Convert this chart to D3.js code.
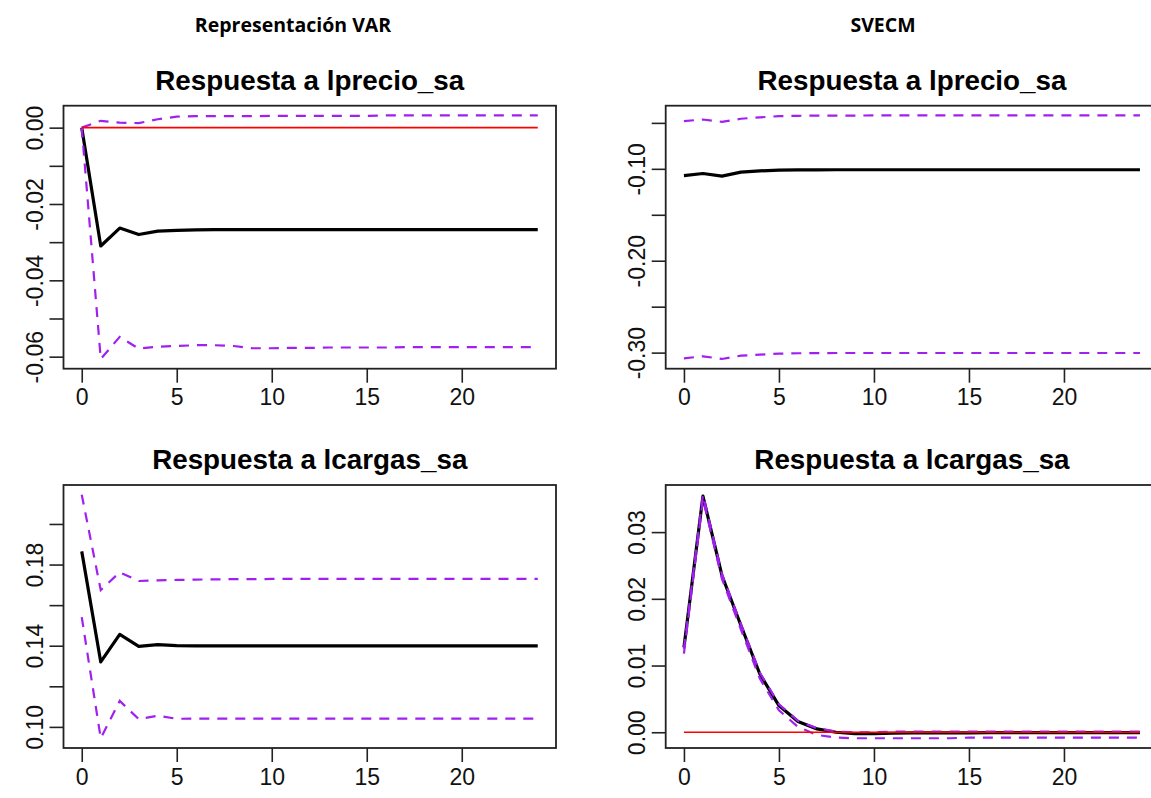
<!DOCTYPE html>
<html>
<head>
<meta charset="utf-8">
<script src="https://cdn.jsdelivr.net/npm/d3@7"></script>
<style>
  body { margin: 0; background: #fff; }
  svg { display: block; }
  .axis text { font-family: "Liberation Sans", Arial, sans-serif; font-size: 23px; fill: #111; }
  .axis line { stroke: #222; stroke-width: 1.6px; }
</style>
</head>
<body>
<div id="chart"></div>
<script>
// impulse horizon
var horizon = [0, 1, 2, 3, 4, 5, 6, 7, 8, 9, 10, 11, 12, 13, 14, 15, 16, 17, 18, 19, 20, 21, 22, 23, 24];
var xTicks = [0, 5, 10, 15, 20];

// VAR: respuesta a lprecio_sa
var varPrecioIrf = [0, -0.0310, -0.0263, -0.0280, -0.0271, -0.0269, -0.0268, -0.0267, -0.0267, -0.0267, -0.0267, -0.0267, -0.0267, -0.0267, -0.0267, -0.0267, -0.0267, -0.0267, -0.0267, -0.0267, -0.0267, -0.0267, -0.0267, -0.0267, -0.0267];
var varPrecioUpper = [0, 0.0018, 0.0013, 0.0012, 0.0022, 0.0029, 0.0030, 0.0030, 0.0030, 0.0030, 0.0031, 0.0031, 0.0031, 0.0031, 0.0031, 0.0031, 0.0032, 0.0032, 0.0032, 0.0032, 0.0032, 0.0032, 0.0032, 0.0032, 0.0032];
var varPrecioLower = [0, -0.0606, -0.0548, -0.0579, -0.0574, -0.0572, -0.0570, -0.0570, -0.0572, -0.0578, -0.0578, -0.0577, -0.0577, -0.0576, -0.0576, -0.0576, -0.0576, -0.0575, -0.0575, -0.0575, -0.0575, -0.0575, -0.0575, -0.0575, -0.0575];
var varPrecioTicks = [0, -0.01, -0.02, -0.03, -0.04, -0.05, -0.06];
var varPrecioLabels = [0, -0.02, -0.04, -0.06];

// VAR: respuesta a lcargas_sa
var varCargasIrf = [0.1865, 0.1320, 0.1456, 0.1397, 0.1405, 0.1400, 0.1399, 0.1399, 0.1399, 0.1399, 0.1399, 0.1399, 0.1399, 0.1399, 0.1399, 0.1399, 0.1399, 0.1399, 0.1399, 0.1399, 0.1399, 0.1399, 0.1399, 0.1399, 0.1399];
var varCargasUpper = [0.2144, 0.1674, 0.1762, 0.1719, 0.1722, 0.1724, 0.1726, 0.1727, 0.1728, 0.1728, 0.1729, 0.1729, 0.1729, 0.1729, 0.1729, 0.1729, 0.1729, 0.1729, 0.1729, 0.1729, 0.1729, 0.1729, 0.1729, 0.1729, 0.1729];
var varCargasLower = [0.1541, 0.0944, 0.1128, 0.1038, 0.1055, 0.1040, 0.1041, 0.1041, 0.1041, 0.1041, 0.1041, 0.1041, 0.1041, 0.1041, 0.1041, 0.1041, 0.1041, 0.1041, 0.1041, 0.1041, 0.1041, 0.1041, 0.1041, 0.1041, 0.1041];
var varCargasTicks = [0.10, 0.12, 0.14, 0.16, 0.18, 0.20];
var varCargasLabels = [0.10, 0.14, 0.18];

// SVECM: respuesta a lprecio_sa
var svecmPrecioIrf = [-0.1073, -0.1051, -0.1080, -0.1036, -0.1022, -0.1015, -0.1012, -0.1011, -0.1010, -0.1010, -0.1010, -0.1010, -0.1010, -0.1010, -0.1010, -0.1010, -0.1010, -0.1010, -0.1010, -0.1010, -0.1010, -0.1010, -0.1010, -0.1010, -0.1010];
var svecmPrecioUpper = [-0.0481, -0.0463, -0.0488, -0.0455, -0.0440, -0.0427, -0.0423, -0.0421, -0.0420, -0.0420, -0.0419, -0.0419, -0.0419, -0.0419, -0.0419, -0.0419, -0.0419, -0.0419, -0.0419, -0.0419, -0.0419, -0.0419, -0.0419, -0.0419, -0.0419];
var svecmPrecioLower = [-0.3062, -0.3040, -0.3069, -0.3033, -0.3022, -0.3011, -0.3007, -0.3005, -0.3004, -0.3004, -0.3004, -0.3004, -0.3004, -0.3004, -0.3004, -0.3004, -0.3004, -0.3004, -0.3004, -0.3004, -0.3004, -0.3004, -0.3004, -0.3004, -0.3004];
var svecmPrecioTicks = [-0.05, -0.10, -0.15, -0.20, -0.25, -0.30];
var svecmPrecioLabels = [-0.10, -0.20, -0.30];

// SVECM: respuesta a lcargas_sa
var svecmCargasIrf = [0.0127, 0.0354, 0.0235, 0.0160, 0.0087, 0.0040, 0.0016, 0.0005, 0.0000, -0.0002, -0.0002, -0.00015, -0.0001, -0.0001, -0.0001, -0.00008, -0.00007, -0.00006, -0.00005, -0.00005, -0.00005, -0.00005, -0.00005, -0.00005, -0.00005];
var svecmCargasUpper = [0.0125, 0.0356, 0.0237, 0.0162, 0.0089, 0.0042, 0.0017, 0.0006, 0.0001, 0.0000, 0.0000, 0.0001, 0.0001, 0.0001, 0.0001, 0.0001, 0.0001, 0.0001, 0.0001, 0.0001, 0.0001, 0.0001, 0.0001, 0.0001, 0.0001];
var svecmCargasLower = [0.0118, 0.0350, 0.0230, 0.0154, 0.0080, 0.0033, 0.0008, -0.0004, -0.0008, -0.0009, -0.0009, -0.0009, -0.0009, -0.0009, -0.0009, -0.0008, -0.0008, -0.0008, -0.0008, -0.0008, -0.0008, -0.0008, -0.0008, -0.0008, -0.0008];
var svecmCargasTicks = [0.00, 0.01, 0.02, 0.03];
var svecmCargasLabels = [0.00, 0.01, 0.02, 0.03];

var width = 1151, height = 798;

var svg = d3.select("#chart")
    .append("svg")
    .attr("width", width)
    .attr("height", height);

// column headings
svg.selectAll(".heading")
    .data([["Representación VAR", 293], ["SVECM", 883]])
    .enter().append("text")
    .attr("class", "heading")
    .attr("x", function(d){ return d[1] })
    .attr("y", 32)
    .attr("text-anchor", "middle")
    .style("font-family", "'Open Sans', sans-serif")
    .style("font-weight", "bold")
    .style("font-size", "19.5px")
    .text(function(d){ return d[0] });

function drawPanel(opts){
    var left = opts.left, right = opts.left + 492.5;
    var top = opts.top, bottom = opts.top + 263;

    var x = d3.scaleLinear().domain([-0.96, 24.96]).range([left, right]);

    // r-style range: data extent plus 4% each side
    var lo = d3.min(opts.lower.concat(opts.irf, opts.upper));
    var hi = d3.max(opts.lower.concat(opts.irf, opts.upper));
    var pad = (hi - lo) * 0.04;
    var y = d3.scaleLinear().domain([lo - pad, hi + pad]).range([bottom, top]);

    var g = svg.append("g");

    g.append("text")
        .attr("x", (left + right) / 2)
        .attr("y", top - 16)
        .attr("text-anchor", "middle")
        .style("font-family", "'Liberation Sans', Arial, sans-serif")
        .style("font-weight", "bold")
        .style("font-size", "27.8px")
        .text(opts.title);

    var xAxis = d3.axisBottom(x).tickValues(xTicks).tickSize(14).tickPadding(6)
        .tickFormat(d3.format("d"));
    var gx = g.append("g").attr("class", "axis")
        .attr("transform", "translate(0," + bottom + ")")
        .call(xAxis);
    gx.select(".domain").remove();
    gx.selectAll("text").attr("dy", "0.72em");

    var yAxis = d3.axisLeft(y).tickValues(opts.ticks).tickSize(14)
        .tickFormat(function(d){
            var show = opts.labels.some(function(l){ return Math.abs(l - d) < 1e-9 });
            return show ? d3.format(".2f")(d).replace("−", "-") : "";
        });
    var gy = g.append("g").attr("class", "axis")
        .attr("transform", "translate(" + left + ",0)")
        .call(yAxis);
    gy.select(".domain").remove();
    gy.selectAll("text")
        .attr("transform", "rotate(-90)")
        .attr("x", 0)
        .attr("y", -20.5)
        .attr("dy", 0)
        .attr("text-anchor", "middle");

    var line = function(vals){
        return d3.line()
            .x(function(d, i){ return x(horizon[i]) })
            .y(function(d){ return y(d) })(vals);
    };

    g.append("path")
        .attr("d", line(opts.irf))
        .attr("fill", "none")
        .attr("stroke", "#000")
        .attr("stroke-width", 3.2)
        .attr("stroke-linejoin", "round");

    [opts.upper, opts.lower].forEach(function(band){
        g.append("path")
            .attr("d", line(band))
            .attr("fill", "none")
            .attr("stroke", "#A020F0")
            .attr("stroke-width", 2.2)
            .attr("stroke-dasharray", "10,8");
    });

    if (opts.zero) {
        g.append("line")
            .attr("x1", x(horizon[0]))
            .attr("x2", x(horizon[horizon.length - 1]))
            .attr("y1", y(0))
            .attr("y2", y(0))
            .attr("stroke", "#ff0000")
            .attr("stroke-width", 1.6);
    }

    g.append("rect")
        .attr("x", left)
        .attr("y", top)
        .attr("width", right - left)
        .attr("height", bottom - top)
        .attr("fill", "none")
        .attr("stroke", "#222")
        .attr("stroke-width", 1.8);
}

drawPanel({ title: "Respuesta a lprecio_sa", left: 63.5, top: 105.7,
    irf: varPrecioIrf, upper: varPrecioUpper, lower: varPrecioLower,
    ticks: varPrecioTicks, labels: varPrecioLabels, zero: true });

drawPanel({ title: "Respuesta a lcargas_sa", left: 63.5, top: 485,
    irf: varCargasIrf, upper: varCargasUpper, lower: varCargasLower,
    ticks: varCargasTicks, labels: varCargasLabels, zero: false });

drawPanel({ title: "Respuesta a lprecio_sa", left: 665.7, top: 105.7,
    irf: svecmPrecioIrf, upper: svecmPrecioUpper, lower: svecmPrecioLower,
    ticks: svecmPrecioTicks, labels: svecmPrecioLabels, zero: false });

drawPanel({ title: "Respuesta a lcargas_sa", left: 665.7, top: 485,
    irf: svecmCargasIrf, upper: svecmCargasUpper, lower: svecmCargasLower,
    ticks: svecmCargasTicks, labels: svecmCargasLabels, zero: true });
</script>
</body>
</html>
